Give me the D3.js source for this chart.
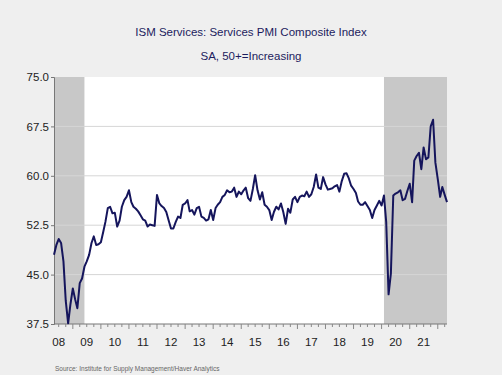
<!DOCTYPE html>
<html>
<head>
<meta charset="utf-8">
<script src="https://cdn.jsdelivr.net/npm/d3@7"></script>
<style>
  html, body { margin: 0; padding: 0; background: #efefef; }
  svg { display: block; font-family: "Liberation Sans", Arial, sans-serif; }
</style>
</head>
<body>
<svg id="chart"></svg>
<script>
// monthly ISM services PMI, May 2008 .. May 2022
const startMonth = new Date(2008, 4, 1);
const pmi = [
  48.0, 49.5, 50.4, 49.8, 47.0, 41.0, 37.6, 40.5, 42.9, 41.2, 39.9, 43.7,
  44.4, 46.2, 47.0, 48.0, 49.8, 50.8, 49.5, 49.6, 49.9, 51.5, 53.0, 55.1,
  55.3, 54.3, 54.4, 52.3, 53.2, 55.3, 56.3, 56.8, 57.8, 56.0, 55.3, 55.0,
  54.6, 54.0, 53.4, 53.2, 52.3, 52.6, 52.5, 52.4, 57.1, 55.8, 55.4, 55.1,
  54.5, 53.2, 52.0, 52.0, 53.0, 53.8, 53.6, 55.6, 55.8, 56.3, 54.6, 54.8,
  54.1, 55.1, 55.3, 53.8, 53.6, 53.2, 53.4, 54.8, 53.3, 55.1, 55.6, 56.0,
  56.8, 57.1, 57.8, 57.5, 57.6, 58.2, 56.8, 57.6, 57.2, 57.8, 58.2, 56.6,
  56.2, 58.0, 60.1, 57.8, 56.4, 57.5, 55.6, 55.3, 54.8, 53.3, 54.5, 55.3,
  54.9, 55.8, 54.5, 52.7, 55.0, 54.4, 56.4, 56.8, 56.0, 56.8, 57.0, 56.9,
  57.6, 56.8, 57.2, 58.3, 60.2, 58.2, 58.0, 59.8, 58.7, 57.9, 58.0, 58.1,
  58.4, 58.6, 57.6, 59.2, 60.3, 60.4, 59.6, 58.5, 58.0, 57.4, 56.1, 55.6,
  55.6, 56.0, 55.4, 54.8, 53.6, 54.8, 55.5, 56.2, 55.5, 57.0, 53.0, 42.0,
  45.2, 57.0, 57.3, 57.5, 57.8, 56.3, 56.5, 57.7, 58.8, 56.0, 62.3, 63.0,
  63.5, 61.0, 64.3, 62.5, 62.8, 67.5, 68.5, 62.0, 59.5, 56.8, 58.3, 57.1,
  56.0
];
const yTicks = [37.5, 45.0, 52.5, 60.0, 67.5, 75.0];
const years = d3.range(2008, 2022);
const recessions = [
  [new Date(2008, 4, 1), new Date(2009, 5, 1)],
  [new Date(2020, 1, 1), new Date(2022, 4, 1)]
];
const title = "ISM Services: Services PMI Composite Index";
const subtitle = "SA, 50+=Increasing";
const source = "Source:  Institute for Supply Management/Haver Analytics";

const width = 502, height = 375;
const margin = { top: 77, right: 55, bottom: 51, left: 54 };

const svg = d3.select("#chart").attr("width", width).attr("height", height);

svg.append("rect")
  .attr("width", width).attr("height", height)
  .attr("fill", "#efefef");

const series = pmi.map((v, i) => ({ date: d3.timeMonth.offset(startMonth, i), value: v }));

const x = d3.scaleTime()
  .domain([startMonth, d3.timeMonth.offset(startMonth, pmi.length - 1)])
  .range([margin.left, width - margin.right]);
const y = d3.scaleLinear()
  .domain([37.5, 75])
  .range([height - margin.bottom, margin.top]);

// plot background
svg.append("rect")
  .attr("x", margin.left).attr("y", margin.top)
  .attr("width", x.range()[1] - margin.left)
  .attr("height", y(37.5) - margin.top)
  .attr("fill", "#ffffff");

svg.append("g")
  .selectAll("rect")
  .data(recessions)
  .join("rect")
  .attr("x", (d) => x(d[0]))
  .attr("y", margin.top)
  .attr("width", (d) => x(d[1]) - x(d[0]))
  .attr("height", y(37.5) - margin.top)
  .attr("fill", "#c8c8c8");

// gridlines
svg.append("g")
  .selectAll("line")
  .data(yTicks.filter((t) => t > 37.5 && t < 75))
  .join("line")
  .attr("x1", margin.left).attr("x2", x.range()[1])
  .attr("y1", (d) => y(d)).attr("y2", (d) => y(d))
  .attr("stroke", "#d6d6d6")
  .attr("stroke-width", 1);

// y axis
const yAxis = svg.append("g")
  .attr("transform", `translate(${margin.left},0)`)
  .call(d3.axisLeft(y).tickValues(yTicks).tickFormat(d3.format(".1f")).tickSize(3).tickPadding(2));
yAxis.select(".domain").attr("stroke", "#777");
yAxis.selectAll(".tick line").attr("stroke", "#777");
yAxis.selectAll("text")
  .attr("fill", "#222")
  .attr("font-size", 11.5)
  .attr("font-family", "Liberation Sans, Arial, sans-serif");

// x axis: quarterly ticks, year labels at mid-year
const xAxis = svg.append("g")
  .attr("transform", `translate(0,${y(37.5)})`);
xAxis.append("line")
  .attr("x1", margin.left).attr("x2", x.range()[1])
  .attr("stroke", "#777");
const quarters = d3.timeMonth.every(3).range(new Date(2008, 6, 1), new Date(2022, 5, 1));
xAxis.selectAll("line.q")
  .data(quarters)
  .join("line")
  .attr("class", "q")
  .attr("x1", (d) => x(d)).attr("x2", (d) => x(d))
  .attr("y1", 0)
  .attr("y2", (d) => (d.getMonth() === 0 ? 5 : 3))
  .attr("stroke", "#888");
xAxis.selectAll("text")
  .data(years)
  .join("text")
  .attr("x", (d) => x(new Date(d, 6, 1)))
  .attr("y", 22)
  .attr("text-anchor", "middle")
  .attr("fill", "#222")
  .attr("font-size", 11.5)
  .text((d) => String(d).slice(2));

// series line
svg.append("path")
  .datum(series)
  .attr("fill", "none")
  .attr("stroke", "#15155c")
  .attr("stroke-width", 2)
  .attr("stroke-linejoin", "round")
  .attr("d", d3.line().x((d) => x(d.date)).y((d) => y(d.value)));

// titles
svg.append("text")
  .attr("x", 251).attr("y", 36)
  .attr("text-anchor", "middle")
  .attr("fill", "#1c1c5e")
  .attr("font-size", 11.5)
  .text(title);
svg.append("text")
  .attr("x", 251).attr("y", 60)
  .attr("text-anchor", "middle")
  .attr("fill", "#1c1c5e")
  .attr("font-size", 11.5)
  .text(subtitle);

svg.append("text")
  .attr("x", 55).attr("y", 371)
  .attr("fill", "#666")
  .attr("font-size", 6.5)
  .text(source);
</script>
</body>
</html>
